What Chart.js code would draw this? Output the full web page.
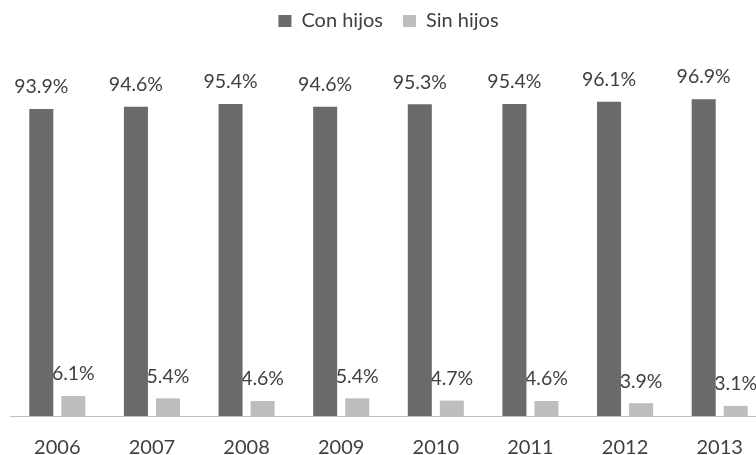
<!DOCTYPE html>
<html>
<head>
<meta charset="utf-8">
<script src="https://cdn.jsdelivr.net/npm/chart.js@4.4.1/dist/chart.umd.min.js"></script>
<style>
  html, body { margin: 0; padding: 0; background: #fff; overflow: hidden; }
  #wrap { width: 790px; height: 455px; }
</style>
</head>
<body>
<div id="wrap"><canvas id="chart" width="790" height="455"></canvas></div>
<script>
const years = ['2006', '2007', '2008', '2009', '2010', '2011', '2012', '2013'];
const conHijos = [93.9, 94.6, 95.4, 94.6, 95.3, 95.4, 96.1, 96.9];
const sinHijos = [6.1, 5.4, 4.6, 5.4, 4.7, 4.6, 3.9, 3.1];
const seriesNames = ['Con hijos', 'Sin hijos'];

const FONT = 'Lato';
const TEXT = '#404040';

// push the plot area down below the legend
const legendSpace = {
  id: 'legendSpace',
  beforeInit(chart) {
    const fit = chart.legend.fit;
    chart.legend.fit = function () {
      fit.bind(chart.legend)();
      this.height += 48;
    };
  }
};

// value labels above each bar (drawn under the bars, like the original)
const valueLabels = {
  id: 'valueLabels',
  beforeDatasetsDraw(chart) {
    const ctx = chart.ctx;
    ctx.save();
    ctx.font = '19.5px ' + FONT;
    ctx.fillStyle = TEXT;
    ctx.textAlign = 'center';
    ctx.textBaseline = 'middle';
    chart.data.datasets.forEach((ds, i) => {
      chart.getDatasetMeta(i).data.forEach((bar, j) => {
        ctx.fillText(ds.data[j].toFixed(1) + '%', bar.x, bar.y - 22);
      });
    });
    ctx.restore();
  }
};

new Chart(document.getElementById('chart'), {
  type: 'bar',
  data: {
    labels: years,
    datasets: [
      { label: seriesNames[0], data: conHijos, backgroundColor: '#6a6a6a' },
      { label: seriesNames[1], data: sinHijos, backgroundColor: '#bdbdbd' }
    ]
  },
  options: {
    responsive: false,
    animation: false,
    categoryPercentage: 0.677,
    barPercentage: 0.75,
    layout: { padding: { top: -9, left: 10, right: 23, bottom: 0 } },
    plugins: {
      legend: {
        position: 'top',
        labels: {
          font: { family: FONT, size: 20 },
          color: TEXT,
          boxWidth: 13,
          boxHeight: 12,
          padding: 20
        }
      },
      tooltip: { enabled: false }
    },
    scales: {
      x: {
        grid: { display: false, drawTicks: false },
        border: { display: true, color: '#bfbfbf', width: 1 },
        ticks: { font: { family: FONT, size: 20 }, color: TEXT, padding: 20 },
        afterFit(scale) { scale.height = 39; }
      },
      y: {
        display: false,
        min: 0,
        max: 100
      }
    }
  },
  plugins: [legendSpace, valueLabels]
});
</script>
</body>
</html>
